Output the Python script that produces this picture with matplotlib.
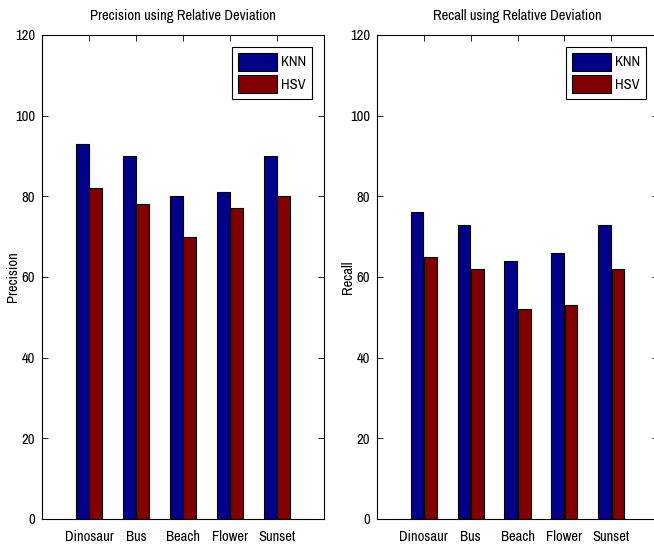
import matplotlib.pyplot as plt
import numpy as np

categories = ["Dinosaur", "Bus", "Beach", "Flower", "Sunset"]
precision_knn = [93, 90, 80, 81, 90]
precision_hsv = [82, 78, 70, 77, 80]
recall_knn = [76, 73, 64, 66, 73]
recall_hsv = [65, 62, 52, 53, 62]
yticks = [0, 20, 40, 60, 80, 100, 120]

plt.rcParams['font.family'] = ['Archivo Narrow', 'DejaVu Sans']
plt.rcParams['font.size'] = 10.5

fig = plt.figure(figsize=(6.54, 5.44), dpi=100)
W, H = 654, 544

def make_axes(x0, x1):
    return fig.add_axes([x0 / W, 1 - 519 / H, (x1 - x0) / W, (519 - 35) / H])

ax1 = make_axes(42, 324)
ax2 = make_axes(377, 658)

x = np.arange(1, len(categories) + 1)
w = 0.27

for ax, knn, hsv, title, ylab in [
    (ax1, precision_knn, precision_hsv, "Precision using Relative Deviation", "Precision"),
    (ax2, recall_knn, recall_hsv, "Recall using Relative Deviation", "Recall"),
]:
    ax.bar(x - w / 2 - 0.01, knn, w, color="#000088", edgecolor="black", linewidth=0.8, label="KNN")
    ax.bar(x + w / 2 + 0.01, hsv, w, color="#800000", edgecolor="black", linewidth=0.8, label="HSV")
    ax.set_xlim(0, 6)
    ax.set_ylim(0, 120)
    ax.set_xticks(x)
    ax.set_xticklabels(categories)
    ax.set_yticks(yticks)
    ax.tick_params(direction="in", top=True, right=True, length=4, width=0.6, labelsize=10.5)
    ax.tick_params(axis="x", pad=8)
    ax.tick_params(axis="y", pad=5)
    ax.set_title(title, fontsize=10.5, pad=11)
    ax.set_ylabel(ylab, fontsize=10.5)
    ax.yaxis.set_label_coords(-22 / 282, 0.5)
    for s in ax.spines.values():
        s.set_linewidth(0.8)
    leg = ax.legend(loc="upper right", fancybox=False, framealpha=1, edgecolor="black",
                    handlelength=2.7, handleheight=1.55, borderpad=0.4, labelspacing=0.3,
                    handletextpad=0.3, borderaxespad=0.8, fontsize=10.5)
    leg.get_frame().set_linewidth(0.8)

fig.savefig("out.png", dpi=100)
